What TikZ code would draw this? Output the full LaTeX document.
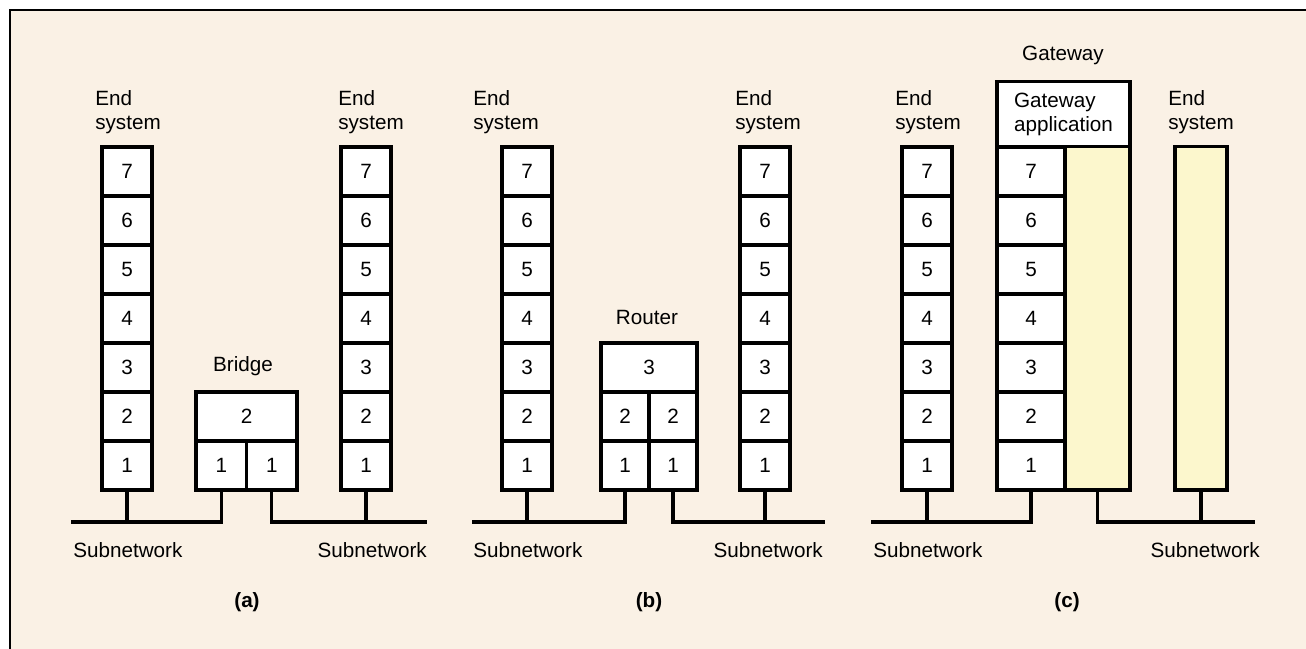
\documentclass[tikz,border=0pt]{standalone}
\usepackage{fontspec}
\setmainfont{Liberation Sans}
\usepackage{xcolor}
\usetikzlibrary{positioning, calc}
\definecolor{paper}{RGB}{250,241,229}
\definecolor{paleyellow}{RGB}{252,247,205}
\newcommand{\figfont}{\fontsize{15.5}{18}\selectfont}

\begin{document}
\begin{tikzpicture}[
  x=0.75pt, y=-0.75pt,
  layer/.style={draw, line width=2.3pt, fill=white, minimum width=37.5pt, minimum height=36.75pt, inner sep=0pt, font=\figfont},
  halflayer/.style={layer, minimum width=37.9pt},
  gwlayer/.style={layer, minimum width=51pt},
  relay/.style={draw, line width=2.3pt, fill=paleyellow, minimum height=257.6pt, inner sep=0pt},
  bus/.style={line width=2.3pt},
  lbl/.style={font=\figfont, inner sep=0pt, align=left},
  tag/.style={font=\figfont\bfseries, inner sep=0pt},
]
  \useasboundingbox (0,0) rectangle (1306,649);

  % Page frame
  \fill[paper] (10,10) rectangle (1306,649);
  \draw[line width=1.5pt] (1306,10) -- (10,10) -- (10,649);

  % (a) Bridge
  \node[lbl, anchor=west] (aEndL) at (95,112) {End\\system};
  \node[lbl, anchor=west] (aEndR) at (338,112) {End\\system};
  \foreach \k in {1,...,7} {
    \node[layer] (al\k) at (127,{490-(\k-0.5)*49}) {\k};
    \node[layer] (ar\k) at (366,{490-(\k-0.5)*49}) {\k};
  }
  \node[layer, minimum width=75.75pt] (br2) at (246.5,416.5) {2};
  \node[halflayer] (br1l) at (221.25,465.5) {1};
  \node[halflayer] (br1r) at (271.75,465.5) {1};
  \node[lbl] (brName) at (243,366) {Bridge};

  \coordinate (aW) at (71,522);
  \coordinate (aE) at (427,522);
  \draw[bus] (aW) -| (br1l.south);
  \draw[bus] (al1.south) -- (al1.south |- aW);
  \draw[bus] (br1r.south) |- (aE);
  \draw[bus] (ar1.south) -- (ar1.south |- aE);
  \node[lbl, anchor=west] (aSubL) at (73,550) {Subnetwork};
  \node[lbl, anchor=east] (aSubR) at (427,550) {Subnetwork};
  \node[tag] (aTag) at (247,602) {(a)};

  % (b) Router
  \node[lbl, anchor=west] (bEndL) at (473,112) {End\\system};
  \node[lbl, anchor=west] (bEndR) at (735,112) {End\\system};
  \foreach \k in {1,...,7} {
    \node[layer] (bl\k) at (527,{490-(\k-0.5)*49}) {\k};
    \node[layer] (bR\k) at (765,{490-(\k-0.5)*49}) {\k};
  }
  \node[layer, minimum width=72pt] (rt3) at (649,367.5) {3};
  \node[halflayer, minimum width=36pt] (rt2l) at (625,416.5) {2};
  \node[halflayer, minimum width=36pt] (rt2r) at (673,416.5) {2};
  \node[halflayer, minimum width=36pt] (rt1l) at (625,465.5) {1};
  \node[halflayer, minimum width=36pt] (rt1r) at (673,465.5) {1};
  \node[lbl] (rtName) at (647,317) {Router};

  \coordinate (bW) at (472,522);
  \coordinate (bE) at (825,522);
  \draw[bus] (bW) -| (rt1l.south);
  \draw[bus] (bl1.south) -- (bl1.south |- bW);
  \draw[bus] (rt1r.south) |- (bE);
  \draw[bus] (bR1.south) -- (bR1.south |- bE);
  \node[lbl, anchor=west] (bSubL) at (473,550) {Subnetwork};
  \node[lbl, anchor=east] (bSubR) at (823,550) {Subnetwork};
  \node[tag] (bTag) at (649,602) {(b)};

  % (c) Gateway
  \node[lbl, anchor=west] (cEndL) at (895,112) {End\\system};
  \node[lbl, anchor=west] (cEndR) at (1168,112) {End\\system};
  \foreach \k in {1,...,7} {
    \node[layer] (cl\k) at (927,{490-(\k-0.5)*49}) {\k};
    \node[gwlayer] (gw\k) at (1031,{490-(\k-0.5)*49}) {\k};
  }
  \node[relay, minimum width=48.75pt] (gwPass) at (1097.5,318.25) {};
  \node[layer, minimum width=99.75pt, minimum height=48.75pt, align=left] (gwApp) at (1063.5,114) {Gateway\\application};
  \node[relay, minimum width=39pt] (cr) at (1201,318.25) {};
  \node[lbl] (gwName) at (1063,55) {Gateway};

  \coordinate (cW) at (871,522);
  \coordinate (cE) at (1255,522);
  \draw[bus] (cW) -| (gw1.south);
  \draw[bus] (cl1.south) -- (cl1.south |- cW);
  \draw[bus] (gwPass.south) |- (cE);
  \draw[bus] (cr.south) -- (cr.south |- cE);
  \node[lbl, anchor=west] (cSubL) at (873,550) {Subnetwork};
  \node[lbl, anchor=east] (cSubR) at (1260,550) {Subnetwork};
  \node[tag] (cTag) at (1067,602) {(c)};
\end{tikzpicture}
\end{document}
